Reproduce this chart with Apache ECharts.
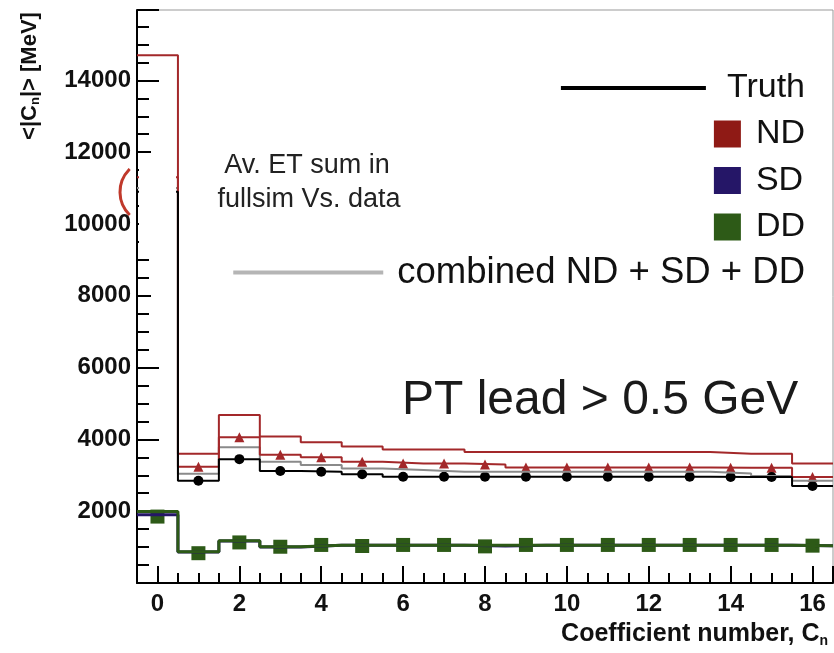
<!DOCTYPE html>
<html>
<head>
<meta charset="utf-8">
<script src="https://cdn.jsdelivr.net/npm/echarts@6/dist/echarts.min.js"></script>
<style>
  html, body { margin: 0; padding: 0; background: #fff; }
  #chart { width: 834px; height: 653px; }
</style>
</head>
<body>
<div id="chart"></div>
<script>
// coefficient number (bin centres)
var bins = [0, 1, 2, 3, 4, 5, 6, 7, 8, 9, 10, 11, 12, 13, 14, 15, 16];

// ND fullsim histogram (upper red line)
var ndHist = [14700, 3600, 4680, 4080, 3920, 3800, 3720, 3720, 3650, 3650, 3650, 3650, 3650, 3650, 3600, 3600, 3330];
// ND points (red triangles)
var ndPts = [11300, 3240, 4060, 3570, 3500, 3380, 3330, 3330, 3300, 3220, 3220, 3220, 3220, 3220, 3210, 3210, 2950];
// combined ND + SD + DD (grey)
var combHist = [11000, 3040, 3780, 3380, 3290, 3190, 3150, 3100, 3100, 3100, 3100, 3100, 3100, 3100, 3050, 2980, 2850];
// truth (black dots)
var truthPts = [10900, 2850, 3450, 3120, 3100, 3030, 2960, 2960, 2960, 2960, 2960, 2960, 2960, 2960, 2950, 2950, 2700];
// SD (blue) and DD (green)
var sdHist = [1900, 860, 1170, 1000, 1050, 1050, 1050, 1050, 1030, 1050, 1050, 1050, 1050, 1050, 1050, 1050, 1040];
var ddHist = [1990, 870, 1180, 1010, 1050, 1050, 1050, 1050, 1050, 1050, 1050, 1050, 1050, 1050, 1050, 1050, 1040];
var ddPts = [1850, 830, 1130, 1010, 1060, 1030, 1060, 1060, 1020, 1060, 1060, 1060, 1060, 1060, 1060, 1060, 1040];

var yTicks = ["2000", "4000", "6000", "8000", "10000", "12000", "14000"];

var FONT = "Liberation Sans";

// histogram as step line through the bin edges
function histData(vals) {
  var out = [];
  for (var i = 0; i < bins.length; i++) {
    out.push([bins[i] - 0.5, vals[i]]);
  }
  out.push([bins[bins.length - 1] + 0.5, vals[vals.length - 1]]);
  return out;
}
function pointData(vals) {
  var out = [];
  for (var i = 0; i < bins.length; i++) {
    out.push([bins[i], vals[i]]);
  }
  return out;
}

function stepSeries(name, vals, color, width) {
  return {
    name: name,
    type: "line",
    step: "end",
    data: histData(vals),
    symbol: "none",
    color: color,
    lineStyle: { color: color, width: width },
    silent: true
  };
}
function markerSeries(name, vals, color, symbol, size) {
  return {
    name: name,
    type: "scatter",
    data: pointData(vals),
    symbol: symbol,
    symbolSize: size,
    itemStyle: { color: color, opacity: 1 },
    silent: true
  };
}

var chart = echarts.init(document.getElementById("chart"));

var option = {
  animation: false,
  backgroundColor: "#fff",
  grid: {
    left: 137,
    right: 1,
    top: 10,
    bottom: 70,
    show: true,
    borderColor: "#999",
    borderWidth: 1
  },
  xAxis: {
    type: "value",
    min: -0.5,
    max: 16.5,
    splitNumber: 8,
    minInterval: 2,
    maxInterval: 2,
    axisLine: { onZero: false, lineStyle: { color: "#000", width: 2 } },
    axisTick: { inside: true, length: 17, lineStyle: { color: "#000", width: 2 } },
    minorTick: { show: true, splitNumber: 4, length: 10, lineStyle: { color: "#000", width: 2 } },
    splitLine: { show: false },
    axisLabel: {
      margin: 9,
      showMinLabel: false,
      showMaxLabel: false,
      color: "#111",
      fontFamily: FONT,
      fontWeight: "bold",
      fontSize: 24
    }
  },
  yAxis: {
    type: "value",
    min: 0,
    max: 15960,
    interval: 2000,
    axisLine: { show: true, onZero: false, lineStyle: { color: "#000", width: 2 } },
    axisTick: { show: true, inside: true, length: 22, lineStyle: { color: "#000", width: 2 } },
    minorTick: { show: true, splitNumber: 4, length: 12, lineStyle: { color: "#000", width: 2 } },
    splitLine: { show: false },
    axisLabel: {
      margin: 6,
      showMinLabel: false,
      showMaxLabel: false,
      color: "#111",
      fontFamily: FONT,
      fontWeight: "bold",
      fontSize: 24,
      formatter: function (v) {
        return yTicks.indexOf(String(v)) >= 0 ? String(v) : "";
      }
    }
  },
  legend: [
    {
      data: [{ name: "Truth", itemStyle: { color: "#000" } }],
      right: 29,
      top: 71,
      padding: 0,
      icon: "rect",
      itemWidth: 145,
      itemHeight: 4,
      selectedMode: false,
      textStyle: { fontFamily: FONT, fontSize: 34, lineHeight: 34, color: "#111", padding: [0, 0, 0, 16] }
    },
    {
      data: [
        { name: "ND", itemStyle: { color: "#8f1a15" } },
        { name: "SD", itemStyle: { color: "#251667" } },
        { name: "DD", itemStyle: { color: "#2d5a17" } }
      ],
      orient: "vertical",
      right: 29,
      top: 117,
      padding: 0,
      icon: "rect",
      itemWidth: 27,
      itemHeight: 27,
      itemGap: 12.5,
      selectedMode: false,
      textStyle: { fontFamily: FONT, fontSize: 34, lineHeight: 34, color: "#111", padding: [0, 0, 0, 10] }
    },
    {
      data: [{ name: "combined ND + SD + DD", itemStyle: { color: "#b5b5b5" } }],
      right: 29,
      top: 254,
      padding: 0,
      icon: "rect",
      itemWidth: 150,
      itemHeight: 4,
      selectedMode: false,
      textStyle: { fontFamily: FONT, fontSize: 36.5, lineHeight: 36, color: "#111", padding: [0, 0, 0, 9] }
    }
  ],
  series: [
    stepSeries("SD", sdHist, "#251667", 3),
    stepSeries("DD", ddHist, "#2d5a17", 3),
    markerSeries("DD", ddPts, "#2d5a17", "rect", 14),
    stepSeries("combined ND + SD + DD", combHist, "#8a8a8a", 2),
    stepSeries("ND", ndHist, "#a3282a", 2),
    stepSeries("ND", ndPts, "#a3282a", 2),
    markerSeries("ND", ndPts, "#a3282a", "triangle", 10),
    stepSeries("Truth", truthPts, "#000", 2),
    markerSeries("Truth", truthPts, "#000", "circle", 10)
  ],
  graphic: [
    // pasted white patch over bin 0
    { type: "rect", z: 100, shape: { x: 151, y: 117, width: 25, height: 218 }, style: { fill: "#fff" } },
    { type: "rect", z: 100, shape: { x: 139, y: 154, width: 12, height: 96 }, style: { fill: "#fff" } },
    {
      type: "arc", z: 101,
      shape: { cx: 152, cy: 192, r: 32, startAngle: Math.PI - 0.8, endAngle: Math.PI + 0.8 },
      style: { stroke: "#c0392b", lineWidth: 3, fill: null }
    },
    {
      type: "text", z: 101, x: 307, y: 166,
      style: { text: "Av. ET sum in", fontFamily: FONT, fontSize: 27, fill: "#222", align: "center", verticalAlign: "middle" }
    },
    {
      type: "text", z: 101, x: 309, y: 200,
      style: { text: "fullsim Vs. data", fontFamily: FONT, fontSize: 27, fill: "#222", align: "center", verticalAlign: "middle" }
    },
    {
      type: "text", z: 101, x: 402, y: 401,
      style: { text: "PT lead > 0.5 GeV", fontFamily: FONT, fontSize: 48, fill: "#1a1a1a", align: "left", verticalAlign: "middle" }
    },
    {
      type: "text", z: 101, x: 828, y: 634,
      style: {
        text: "{a|Coefficient number, C}{s|n}",
        align: "right",
        verticalAlign: "middle",
        rich: {
          a: { fontFamily: FONT, fontWeight: "bold", fontSize: 25, fill: "#111", color: "#111" },
          s: { fontFamily: FONT, fontWeight: "bold", fontSize: 14, fill: "#111", color: "#111", padding: [14, 0, 0, 0] }
        }
      }
    },
    {
      type: "text", z: 101, x: 30, y: 76, rotation: Math.PI / 2,
      style: {
        text: "{a|<|C}{s|n}{a||> [MeV]}",
        align: "center",
        verticalAlign: "middle",
        rich: {
          a: { fontFamily: FONT, fontWeight: "bold", fontSize: 22, fill: "#111", color: "#111" },
          s: { fontFamily: FONT, fontWeight: "bold", fontSize: 13, fill: "#111", color: "#111", padding: [10, 0, 0, 0] }
        }
      }
    }
  ]
};

chart.setOption(option);
</script>
</body>
</html>
